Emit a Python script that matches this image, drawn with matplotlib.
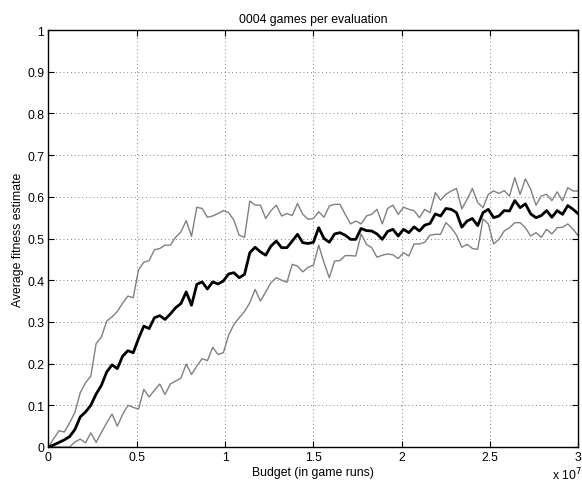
import numpy as np
import matplotlib
matplotlib.use('Agg')
import matplotlib.pyplot as plt
from matplotlib.ticker import FuncFormatter

plt.rcParams.update({
    'font.family': ['Liberation Sans', 'DejaVu Sans'],
    'font.size': 8.8,
    'xtick.direction': 'in',
    'ytick.direction': 'in',
    'xtick.major.size': 4,
    'ytick.major.size': 4,
    'xtick.major.pad': 3,
    'ytick.major.pad': 3,
    'xtick.top': True,
    'ytick.right': True,
})

# budget, in game runs (one sample every 3e5 runs)
budget = np.arange(101) * 3e5

mean_fit = [0.000, 0.005, 0.011, 0.017, 0.025, 0.042, 0.072, 0.084, 0.100, 0.127,
            0.148, 0.180, 0.197, 0.188, 0.218, 0.231, 0.226, 0.260, 0.290, 0.284,
            0.310, 0.315, 0.306, 0.319, 0.334, 0.344, 0.372, 0.340, 0.390, 0.396,
            0.379, 0.396, 0.391, 0.398, 0.415, 0.418, 0.406, 0.414, 0.466, 0.479,
            0.468, 0.460, 0.482, 0.494, 0.478, 0.478, 0.494, 0.510, 0.490, 0.488,
            0.491, 0.526, 0.500, 0.491, 0.511, 0.514, 0.508, 0.498, 0.498, 0.524,
            0.519, 0.518, 0.511, 0.498, 0.517, 0.522, 0.506, 0.522, 0.514, 0.528,
            0.518, 0.532, 0.536, 0.559, 0.554, 0.572, 0.570, 0.562, 0.527, 0.542,
            0.548, 0.531, 0.562, 0.570, 0.550, 0.554, 0.567, 0.566, 0.591, 0.574,
            0.583, 0.559, 0.550, 0.555, 0.567, 0.551, 0.567, 0.558, 0.579, 0.570,
            0.559]

upper_fit = [0.000, 0.020, 0.039, 0.036, 0.058, 0.083, 0.130, 0.154, 0.170, 0.248,
             0.264, 0.302, 0.312, 0.325, 0.345, 0.362, 0.358, 0.425, 0.443, 0.447,
             0.473, 0.476, 0.484, 0.484, 0.503, 0.516, 0.543, 0.505, 0.575, 0.572,
             0.551, 0.554, 0.560, 0.567, 0.562, 0.544, 0.508, 0.503, 0.590, 0.580,
             0.580, 0.548, 0.567, 0.580, 0.554, 0.560, 0.555, 0.584, 0.558, 0.546,
             0.548, 0.564, 0.551, 0.578, 0.582, 0.582, 0.558, 0.535, 0.542, 0.535,
             0.554, 0.558, 0.570, 0.535, 0.572, 0.580, 0.558, 0.575, 0.570, 0.567,
             0.550, 0.570, 0.562, 0.610, 0.592, 0.606, 0.614, 0.620, 0.571, 0.594,
             0.620, 0.586, 0.574, 0.606, 0.614, 0.608, 0.615, 0.602, 0.646, 0.606,
             0.643, 0.618, 0.580, 0.602, 0.606, 0.591, 0.612, 0.590, 0.622, 0.614,
             0.614]

lower_fit = [0.000, 0.000, 0.000, 0.000, 0.000, 0.012, 0.019, 0.010, 0.034, 0.011,
             0.035, 0.058, 0.079, 0.050, 0.078, 0.100, 0.095, 0.091, 0.138, 0.120,
             0.136, 0.151, 0.126, 0.151, 0.158, 0.165, 0.199, 0.174, 0.194, 0.212,
             0.207, 0.239, 0.222, 0.226, 0.268, 0.294, 0.310, 0.325, 0.346, 0.378,
             0.350, 0.372, 0.394, 0.406, 0.400, 0.395, 0.438, 0.434, 0.420, 0.431,
             0.436, 0.484, 0.442, 0.406, 0.446, 0.447, 0.459, 0.459, 0.458, 0.511,
             0.486, 0.478, 0.455, 0.460, 0.463, 0.461, 0.452, 0.466, 0.458, 0.487,
             0.487, 0.491, 0.508, 0.510, 0.510, 0.538, 0.526, 0.508, 0.479, 0.486,
             0.476, 0.474, 0.547, 0.535, 0.487, 0.498, 0.518, 0.526, 0.538, 0.538,
             0.526, 0.506, 0.514, 0.503, 0.522, 0.511, 0.526, 0.527, 0.535, 0.522,
             0.506]

fig = plt.figure(figsize=(5.82, 4.85), dpi=100)
ax = fig.add_axes([0.0832, 0.0763, 0.9106, 0.8597])

ax.plot(budget, upper_fit, color='#808080', lw=1.0)
ax.plot(budget, lower_fit, color='#808080', lw=1.0)
ax.plot(budget, mean_fit, color='black', lw=2.0)

ax.set_xlim(0, 3e7)
ax.set_ylim(0, 1)
ax.set_xticks(np.arange(0, 3.01e7, 0.5e7))
ax.set_yticks(np.arange(0, 1.01, 0.1))
ax.xaxis.set_major_formatter(FuncFormatter(lambda v, p: '%g' % (v / 1e7)))
ax.yaxis.set_major_formatter(FuncFormatter(lambda v, p: '%g' % round(v, 1)))

ax.grid(True, color='#555555', linestyle=(0, (1, 3.5)), linewidth=0.6)
for s in ax.spines.values():
    s.set_linewidth(1.0)

ax.set_title('0004 games per evaluation', fontsize=8.8, pad=6)
ax.set_xlabel('Budget (in game runs)', labelpad=2)
ax.set_ylabel('Average fitness estimate', labelpad=2)
fig.text(0.949, 0.010, r'x 10$^7$', fontsize=8.8)

fig.savefig('out.png', dpi=100)
